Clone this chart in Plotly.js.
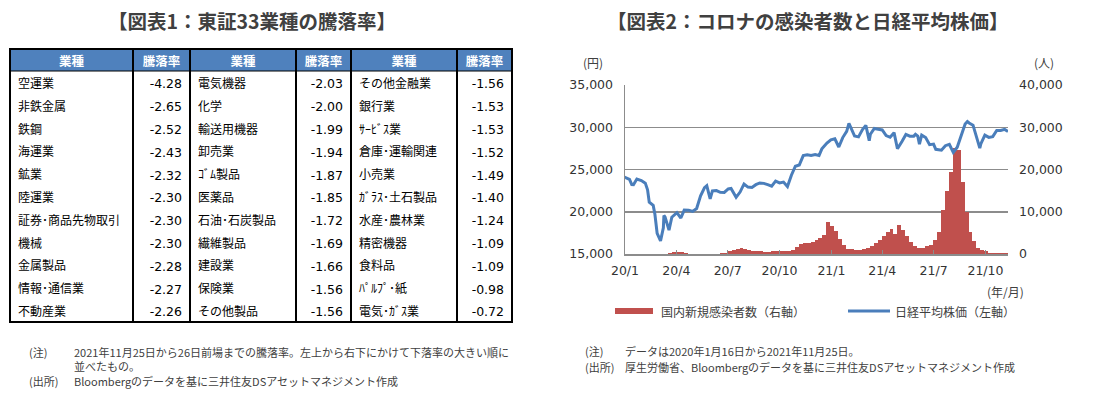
<!DOCTYPE html>
<html><head><meta charset="utf-8">
<script src="https://cdn.plot.ly/plotly-3.0.1.min.js"></script>
<style>html,body{margin:0;padding:0;background:#fff;}#chart{width:1099px;height:397px;}</style>
</head><body><div id="chart"></div>
<script>
// ---------- Table data (図表1) ----------
const sectors1 = ['空運業','非鉄金属','鉄鋼','海運業','鉱業','陸運業','証券･商品先物取引','機械','金属製品','情報･通信業','不動産業'];
const rates1   = [-4.28,-2.65,-2.52,-2.43,-2.32,-2.30,-2.30,-2.30,-2.28,-2.27,-2.26];
const sectors2 = ['電気機器','化学','輸送用機器','卸売業','ｺﾞﾑ製品','医薬品','石油･石炭製品','繊維製品','建設業','保険業','その他製品'];
const rates2   = [-2.03,-2.00,-1.99,-1.94,-1.87,-1.85,-1.72,-1.69,-1.66,-1.56,-1.56];
const sectors3 = ['その他金融業','銀行業','ｻｰﾋﾞｽ業','倉庫･運輸関連','小売業','ｶﾞﾗｽ･土石製品','水産･農林業','精密機器','食料品','ﾊﾟﾙﾌﾟ･紙','電気･ｶﾞｽ業'];
const rates3   = [-1.56,-1.53,-1.53,-1.52,-1.49,-1.40,-1.24,-1.09,-1.09,-0.98,-0.72];
const tableHeaders = ['業種','騰落率','業種','騰落率','業種','騰落率'];

// ---------- Chart data (図表2) ----------
// Nikkei average (yen)
const nikkeiDates = [
 '2020-01-16','2020-01-17','2020-01-24','2020-01-28','2020-01-31',
 '2020-02-06','2020-02-14','2020-02-21','2020-02-25','2020-02-28',
 '2020-03-06','2020-03-09','2020-03-13','2020-03-16','2020-03-19','2020-03-24','2020-03-25','2020-03-27',
 '2020-04-01','2020-04-03','2020-04-08','2020-04-10','2020-04-17','2020-04-24','2020-04-30',
 '2020-05-08','2020-05-15','2020-05-22','2020-05-29',
 '2020-06-05','2020-06-09','2020-06-12','2020-06-15','2020-06-19','2020-06-26',
 '2020-07-03','2020-07-10','2020-07-17','2020-07-22','2020-07-31',
 '2020-08-07','2020-08-14','2020-08-21','2020-08-28',
 '2020-09-04','2020-09-11','2020-09-18','2020-09-25',
 '2020-10-02','2020-10-09','2020-10-16','2020-10-23','2020-10-30',
 '2020-11-06','2020-11-13','2020-11-20','2020-11-27',
 '2020-12-04','2020-12-11','2020-12-18','2020-12-25','2020-12-30',
 '2021-01-08','2021-01-15','2021-01-22','2021-01-29',
 '2021-02-05','2021-02-12','2021-02-16','2021-02-19','2021-02-26',
 '2021-03-05','2021-03-12','2021-03-18','2021-03-24','2021-03-26',
 '2021-04-02','2021-04-09','2021-04-16','2021-04-23','2021-04-30',
 '2021-05-07','2021-05-13','2021-05-21','2021-05-28',
 '2021-06-04','2021-06-11','2021-06-14','2021-06-18','2021-06-21','2021-06-25',
 '2021-07-02','2021-07-09','2021-07-16','2021-07-20','2021-07-30',
 '2021-08-06','2021-08-13','2021-08-20','2021-08-27',
 '2021-09-03','2021-09-10','2021-09-14','2021-09-17','2021-09-24',
 '2021-10-01','2021-10-06','2021-10-08','2021-10-15','2021-10-22','2021-10-29',
 '2021-11-05','2021-11-12','2021-11-19','2021-11-25'];
const nikkeiValues = [
 23933,24041,23827,23216,23205,
 23873,23688,23387,22606,21142,
 20749,19698,17431,17002,16552,18092,19546,19389,
 18065,17820,19353,19498,19897,19262,20193,
 20179,20037,20388,21877,
 22863,23091,22305,21530,22478,22512,
 22306,22290,22696,22751,21710,
 22329,23289,22920,22882,
 23205,23406,23360,23205,
 23030,23620,23410,23516,22977,
 24325,25385,25527,26644,
 26751,26652,26763,26656,27444,
 28139,28519,28631,27663,
 28779,29520,30467,30018,28966,
 28864,29717,30216,28405,29176,
 29854,29768,29683,29020,28812,
 29357,27448,28317,29149,
 28941,28948,29161,28964,28010,29066,
 28783,27940,28003,27388,27283,
 27820,27977,27013,27641,
 29128,30381,30670,30500,30248,
 28771,27528,28049,29068,28804,28892,
 29611,29610,29745,29499];

// New domestic cases (persons), one value per week starting 2020-01-16
const casesStart = '2020-01-16';
const casesValues = [
 0,1,3, 2,5,12,22, 33,52,40,96, 235,510,580,430,165, 85,50,30,25, 40,40,45,95,
 200,350,620,950,1300, 1450,1150,1000,800, 620,600,550,480, 600,620,640,600,800,
 1050,1650,2400,2500, 2500,2800,3200,3700,4500,
 7500,6600,5400,3500, 2100,1300,1100,950, 1050,1200,1400,1800, 2500,3300,4300,5200,5800,
 4800,6800,5600,4200, 2800,1900,1500,1500, 1800,2100,3300,5300,10500,
 15000,19500,25100,24500, 17000,10000,5200,3000,1400, 850,600,350,250, 200,180,170,100];

const xTickVals = ['2020-01-16','2020-04-16','2020-07-16','2020-10-16','2021-01-16','2021-04-16','2021-07-16','2021-10-16'];
const xTickText = ['20/1','20/4','20/7','20/10','21/1','21/4','21/7','21/10'];

const seriesNames = ['国内新規感染者数（右軸）','日経平均株価（左軸）'];

// ---------- helpers ----------
const W = 1099, H = 397;
const px = x => x / W;
const py = y => 1 - y / H;
const DAY = 86400000;
const casesDates = casesValues.map((_, i) => {
  const d = new Date(Date.parse(casesStart + 'T00:00:00Z') + i * 7 * DAY);
  return d.toISOString().slice(0, 10);
});

const JP = '"Noto Sans CJK JP", sans-serif';
const NUM = '"DejaVu Sans", Verdana, sans-serif';
const TXT = '#404040';

// ---------- traces ----------
const tableTrace = {
  type: 'table',
  domain: {x: [px(10), px(512)], y: [py(324), py(49)]},
  columnwidth: [123, 57, 106, 55, 106, 55],
  header: {
    values: tableHeaders,
    align: 'center',
    height: 22,
    fill: {color: 'rgba(0,0,0,0)'},
    line: {color: 'rgba(0,0,0,0)', width: 0},
    font: {family: JP, size: 12.5, color: '#ffffff', weight: 'bold'}
  },
  cells: {
    values: [sectors1, rates1, sectors2, rates2, sectors3, rates3],
    format: ['', '.2f', '', '.2f', '', '.2f'],
    align: ['left', 'right', 'left', 'right', 'left', 'right'],
    height: 22.8,
    fill: {color: 'rgba(0,0,0,0)'},
    line: {color: 'rgba(0,0,0,0)', width: 0},
    font: {family: [JP, NUM, JP, NUM, JP, NUM], size: [12, 12.5, 12, 12.5, 12, 12.5], color: '#000000'}
  }
};

const barTrace = {
  type: 'bar',
  name: seriesNames[0],
  x: casesDates,
  y: casesValues,
  width: 7 * DAY,
  offset: 0,
  marker: {color: '#C0504D', line: {width: 0}},
  xaxis: 'x', yaxis: 'y',
  showlegend: false,
  hoverinfo: 'x+y'
};

const lineTrace = {
  type: 'scatter',
  mode: 'lines',
  name: seriesNames[1],
  x: nikkeiDates,
  y: nikkeiValues,
  line: {color: '#4A7EBB', width: 3},
  xaxis: 'x', yaxis: 'y2',
  showlegend: false
};

// ---------- layout ----------
const ann = (text, x, y, opts = {}) => Object.assign({
  text, x: px(x), y: py(y), xref: 'paper', yref: 'paper',
  xanchor: 'left', yanchor: 'middle', showarrow: false,
  font: {family: JP, size: 11, color: TXT}
}, opts);

const annotations = [
  ann('【図表1：東証33業種の騰落率】', 252, 21, {xanchor: 'center', font: {family: JP, size: 19.5, color: TXT, weight: 'bold'}}),
  ann('【図表2：コロナの感染者数と日経平均株価】', 808, 21, {xanchor: 'center', font: {family: JP, size: 19.5, color: TXT, weight: 'bold'}}),
  ann('(円)', 593, 63, {xanchor: 'center', font: {family: JP, size: 12, color: TXT}}),
  ann('(人)', 1044, 63, {xanchor: 'center', font: {family: JP, size: 12, color: TXT}}),
  ann('(年/月)', 1005, 291, {xanchor: 'center', font: {family: JP, size: 12, color: TXT}}),
  ann(seriesNames[0], 659, 311, {font: {family: JP, size: 12, color: TXT}}),
  ann(seriesNames[1], 893, 311, {font: {family: JP, size: 12, color: TXT}}),
  ann('(注)', 583, 351),
  ann('データは2020年1月16日から2021年11月25日。', 623, 351),
  ann('(出所)', 583, 367),
  ann('厚生労働省、Bloombergのデータを基に三井住友DSアセットマネジメント作成', 623, 367),
  ann('(注)', 27, 352),
  ann('2021年11月25日から26日前場までの騰落率。左上から右下にかけて下落率の大きい順に', 72, 352),
  ann('並べたもの。', 72, 366),
  ann('(出所)', 27, 381),
  ann('Bloombergのデータを基に三井住友DSアセットマネジメント作成', 72, 381)
];

const pshape = (o) => Object.assign({xref: 'paper', yref: 'paper'}, o);
const shapes = [
  // table header background
  pshape({type: 'rect', x0: px(10), x1: px(512), y0: py(71), y1: py(49), fillcolor: '#4F81BD', line: {width: 0}, layer: 'below'}),
  // header bottom line
  pshape({type: 'line', x0: px(10), x1: px(512), y0: py(71), y1: py(71), line: {color: '#000', width: 1}}),
  // vertical separators
  ...[133, 190, 296, 351, 457].map(x => pshape({type: 'line', x0: px(x), x1: px(x), y0: py(49), y1: py(322), line: {color: '#000', width: 2}})),
  // outer border
  pshape({type: 'rect', x0: px(10), x1: px(512), y0: py(322), y1: py(49), line: {color: '#000', width: 2}, fillcolor: 'rgba(0,0,0,0)'}),
  // legend swatches
  pshape({type: 'rect', x0: px(615), x1: px(653), y0: py(314), y1: py(308), fillcolor: '#C0504D', line: {width: 0}}),
  pshape({type: 'line', x0: px(848), x1: px(890), y0: py(311), y1: py(311), line: {color: '#4A7EBB', width: 3}})
];

const layout = {
  width: W, height: H,
  margin: {l: 0, r: 0, t: 0, b: 0},
  paper_bgcolor: '#ffffff',
  plot_bgcolor: '#ffffff',
  showlegend: false,
  bargap: 0,
  xaxis: {
    type: 'date',
    domain: [px(625), px(1008)],
    range: ['2020-01-16', '2021-11-25'],
    tickvals: xTickVals, ticktext: xTickText,
    ticks: 'inside', ticklen: 4, tickcolor: '#8c8c8c', tickwidth: 1,
    showline: true, linecolor: '#8c8c8c', linewidth: 1.5,
    showgrid: false, zeroline: false,
    ticklabelstandoff: 4,
    tickfont: {family: NUM, size: 12.5, color: '#333'},
    anchor: 'y'
  },
  yaxis: {
    domain: [py(254), py(85)],
    side: 'right',
    range: [0, 40000],
    tickvals: [0, 10000, 20000, 30000, 40000],
    tickformat: ',d',
    showgrid: false, zeroline: false, showline: false, ticks: '',
    ticklabelstandoff: 10,
    tickfont: {family: NUM, size: 12.5, color: '#333'}
  },
  yaxis2: {
    overlaying: 'y',
    side: 'left',
    anchor: 'x',
    range: [15000, 35000],
    tickvals: [15000, 20000, 25000, 30000, 35000],
    tickformat: ',d',
    showgrid: true, gridcolor: '#8c8c8c', gridwidth: 1.5,
    zeroline: false,
    showline: true, linecolor: '#8c8c8c', linewidth: 1.5,
    ticks: '',
    ticklabelstandoff: 8,
    tickfont: {family: NUM, size: 12.5, color: '#333'}
  },
  annotations, shapes
};

Plotly.newPlot('chart', [tableTrace, barTrace, lineTrace], layout, {staticPlot: true, displayModeBar: false});
</script>
</body></html>
